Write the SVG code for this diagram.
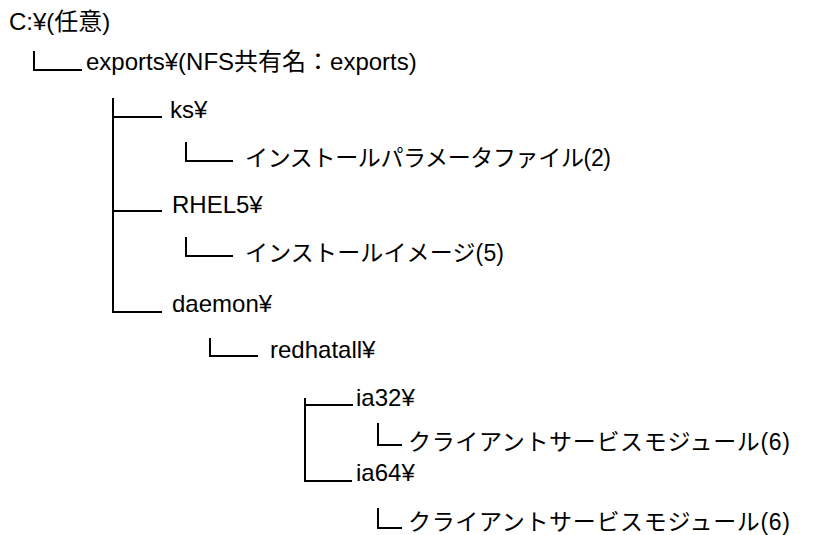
<svg xmlns="http://www.w3.org/2000/svg" width="818" height="535" viewBox="0 0 818 535">
<style>
.t{font-family:"Liberation Sans","Noto Sans CJK JP",Arial,sans-serif;font-size:24px;fill:#000}
.j{font-size:23px}
.c{stroke:#000;stroke-width:2;fill:none}
</style>
<rect width="818" height="535" fill="#fff"/>
<g id="connectors">
<path class="c" d="M34,51 V70 H82"/>
<path class="c" d="M113,98 V312 H162 M113,117 H162 M113,211 H162"/>
<path class="c" d="M186,142 V161 H233"/>
<path class="c" d="M186,237 V256 H233"/>
<path class="c" d="M210,338 V356 H258"/>
<path class="c" d="M305,398 V481 H352 M305,405 H353"/>
<path class="c" d="M378,423 V445 H402"/>
<path class="c" d="M378,508 V528 H402"/>
</g>
<g id="root"><text class="t" x="9" y="30">C:¥(任意)</text></g>
<g id="exports"><text class="t" x="86" y="70">exports¥(NFS共有名：exports)</text></g>
<g id="ks"><text class="t" x="170" y="118">ks¥</text></g>
<g id="ks-param"><text class="t j" x="245" y="166" textLength="366">インストールパラメータファイル(2)</text></g>
<g id="rhel5"><text class="t" x="172" y="213">RHEL5¥</text></g>
<g id="rhel5-image"><text class="t j" x="245" y="261" textLength="259">インストールイメージ(5)</text></g>
<g id="daemon"><text class="t" x="172" y="312">daemon¥</text></g>
<g id="redhatall"><text class="t" x="270" y="358">redhatall¥</text></g>
<g id="ia32"><text class="t" x="356" y="406">ia32¥</text></g>
<g id="ia32-module"><text class="t j" x="408" y="450" textLength="382">クライアントサービスモジュール(6)</text></g>
<g id="ia64"><text class="t" x="356" y="481">ia64¥</text></g>
<g id="ia64-module"><text class="t j" x="408" y="530" textLength="382">クライアントサービスモジュール(6)</text></g>
</svg>
